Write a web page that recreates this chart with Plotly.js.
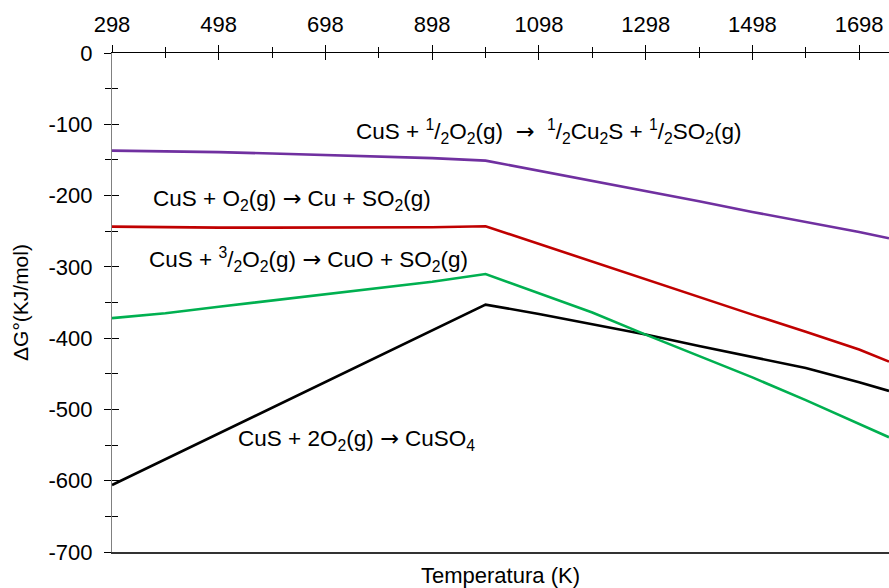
<!DOCTYPE html>
<html>
<head>
<meta charset="utf-8">
<script src="https://cdn.plot.ly/plotly-3.0.1.min.js"></script>
<style>html,body{margin:0;padding:0;background:#fff;}#chart{width:889px;height:588px;}</style>
</head>
<body>
<div id="chart"></div>
<script>
// Temperature (K)
const temperature = [298, 398, 498, 598, 698, 798, 898, 998, 1098, 1198, 1298, 1398, 1498, 1598, 1698, 1754];
// ΔG° (kJ/mol) per reaction
const dG_Cu2S  = [-137, -137.5, -139, -141, -143, -145, -147.5, -151, -165, -179, -194, -208, -223, -237, -251, -260];
const dG_Cu    = [-243.5, -244.5, -245, -245, -245, -245, -244.5, -243, -268, -293, -317, -342, -367, -391, -416, -433];
const dG_CuO   = [-372, -365, -356, -347, -339, -330, -321, -310, -337, -364, -395, -425, -455, -487, -520, -539];
const dG_CuSO4 = [-606, -570, -533, -497, -461, -425, -389, -353, -366, -380, -395, -411, -426, -442, -462, -474];

const ARROW = '<span style="font-family:\'DejaVu Sans\'">\u2192</span>';
const seriesNames = [
  'CuS + <sup>1</sup>/<sub>2</sub>O<sub>2</sub>(g) \u00a0' + ARROW + '\u00a0 <sup>1</sup>/<sub>2</sub>Cu<sub>2</sub>S + <sup>1</sup>/<sub>2</sub>SO<sub>2</sub>(g)',
  'CuS + O<sub>2</sub>(g) ' + ARROW + ' Cu + SO<sub>2</sub>(g)',
  'CuS + <sup>3</sup>/<sub>2</sub>O<sub>2</sub>(g) ' + ARROW + ' CuO + SO<sub>2</sub>(g)',
  'CuS + 2O<sub>2</sub>(g) ' + ARROW + ' CuSO<sub>4</sub>'
];
const seriesColors = ['#7030A0', '#C00000', '#00B050', '#000000'];

const xTickVals = [298, 498, 698, 898, 1098, 1298, 1498, 1698];
const yTickVals = [0, -100, -200, -300, -400, -500, -600, -700];
const yTickText = ['0', '-100', '-200', '-300', '-400', '-500', '-600', '-700'];

const FONT = 'Liberation Sans, Arial, sans-serif';
const xRange = [298, 1754];
const yRange = [-700, 0];

// each series is drawn on one of the overlaid (identically ranged) axis pairs
const seriesData = [dG_Cu2S, dG_Cu, dG_CuO, dG_CuSO4];
const seriesAxes = [['x', 'y'], ['x2', 'y'], ['x3', 'y'], ['x', 'y2']];
const traces = seriesData.map((ys, i) => ({
  type: 'scatter', mode: 'lines', x: temperature, y: ys,
  xaxis: seriesAxes[i][0], yaxis: seriesAxes[i][1],
  name: seriesNames[i], line: {color: seriesColors[i], width: 2.6},
  hoverinfo: 'skip', showlegend: false
}));

// label positions (data coords)
const labelPos = [
  {x: 752, y: -110},
  {x: 372, y: -205},
  {x: 364, y: -289},
  {x: 531, y: -542}
];

const annotations = labelPos.map((p, i) => ({
  x: p.x, y: p.y, xref: 'x', yref: 'y', text: seriesNames[i],
  showarrow: false, xanchor: 'left', yanchor: 'middle',
  font: {family: FONT, size: 22.5, color: '#000'}
}));

const layout = {
  width: 889, height: 588,
  margin: {l: 112, r: 0, t: 53, b: 36},
  paper_bgcolor: '#fff', plot_bgcolor: '#fff',
  font: {family: FONT, size: 22, color: '#000'},
  showlegend: false,
  xaxis: {
    side: 'top', anchor: 'y', range: xRange,
    tickmode: 'array', tickvals: xTickVals,
    ticks: 'outside', ticklen: 7, tickwidth: 1, tickcolor: '#000',
    minor: {tickmode: 'linear', tick0: 398, dtick: 200, ticks: 'outside', ticklen: 4.5, tickwidth: 1, tickcolor: '#000', showgrid: false},
    showline: true, linecolor: '#000', linewidth: 1.2,
    showgrid: false, zeroline: false,
    tickfont: {family: FONT, size: 22, color: '#000'},
    ticklabelstandoff: 4
  },
  xaxis3: {
    overlaying: 'x', side: 'top', anchor: 'y', range: xRange,
    tickmode: 'array', tickvals: xTickVals,
    ticks: 'inside', ticklen: 7, tickwidth: 1, tickcolor: '#000',
    minor: {tickmode: 'linear', tick0: 398, dtick: 200, ticks: 'inside', ticklen: 4.5, tickwidth: 1, tickcolor: '#000', showgrid: false},
    showticklabels: false, showline: false, showgrid: false, zeroline: false
  },
  xaxis2: {
    overlaying: 'x', side: 'bottom', anchor: 'y', range: xRange,
    ticks: '', showticklabels: false, showgrid: false, zeroline: false,
    showline: true, linecolor: '#333', linewidth: 1.5,
    title: {text: 'Temperatura (K)', font: {family: FONT, size: 22, color: '#000'}, standoff: 16}
  },
  yaxis: {
    anchor: 'x', range: yRange,
    tickmode: 'array', tickvals: yTickVals, ticktext: yTickText,
    ticks: 'outside', ticklen: 6.5, tickwidth: 1, tickcolor: '#000',
    minor: {tickmode: 'linear', tick0: -50, dtick: 100, ticks: 'outside', ticklen: 5.5, tickwidth: 1, tickcolor: '#000', showgrid: false},
    showline: true, linecolor: '#808080', linewidth: 1.5,
    showgrid: false, zeroline: false,
    tickfont: {family: FONT, size: 22, color: '#000'},
    ticklabelstandoff: 7,
    title: {text: '\u0394G\u00b0(KJ/mol)', font: {family: FONT, size: 21, color: '#000'}, standoff: 14}
  },
  yaxis2: {
    overlaying: 'y', side: 'left', anchor: 'x', range: yRange,
    tickmode: 'array', tickvals: yTickVals,
    ticks: 'inside', ticklen: 6.5, tickwidth: 1, tickcolor: '#000',
    minor: {tickmode: 'linear', tick0: -50, dtick: 100, ticks: 'inside', ticklen: 5.5, tickwidth: 1, tickcolor: '#000', showgrid: false},
    showticklabels: false, showline: false, showgrid: false, zeroline: false
  },
  annotations: annotations
};

Plotly.newPlot('chart', traces, layout, {displayModeBar: false, staticPlot: true});
</script>
</body>
</html>
